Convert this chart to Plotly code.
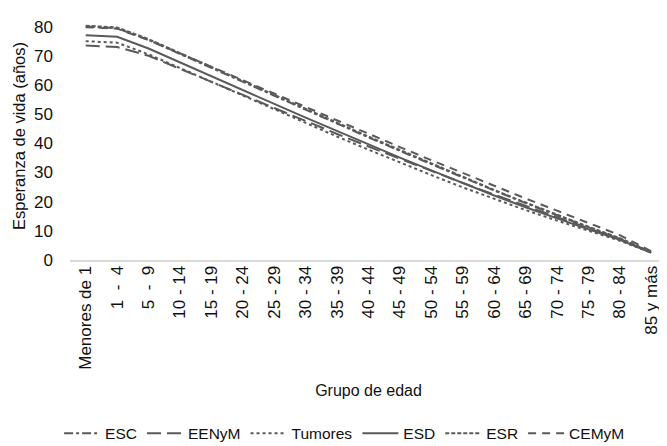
import plotly.graph_objects as go

grupos = ["Menores de 1", "1  -  4", "5  -  9", "10 - 14", "15 - 19", "20 - 24", "25 - 29",
          "30 - 34", "35 - 39", "40 - 44", "45 - 49", "50 - 54", "55 - 59", "60 - 64",
          "65 - 69", "70 - 74", "75 - 79", "80 - 84", "85 y más"]

ESC = [80.0, 79.4, 75.4, 70.6, 65.8, 61.0, 56.2, 51.4, 46.7, 42.0, 37.4, 32.8, 28.2, 23.8, 19.5, 15.3, 11.2, 7.2, 2.6]
EENyM = [73.5, 73.0, 70.0, 65.6, 61.1, 56.6, 52.1, 47.6, 43.2, 38.9, 34.7, 30.5, 26.4, 22.4, 18.5, 14.7, 10.9, 7.2, 2.6]
Tumores = [75.0, 74.5, 70.5, 65.8, 61.0, 56.3, 51.6, 46.9, 42.3, 37.8, 33.4, 29.1, 24.9, 20.9, 17.1, 13.5, 10.0, 6.6, 2.5]
ESD = [77.0, 76.5, 72.5, 67.7, 62.9, 58.2, 53.5, 48.8, 44.2, 39.6, 35.1, 30.7, 26.3, 22.1, 18.1, 14.2, 10.5, 6.9, 2.5]
ESR = [80.3, 79.7, 75.7, 70.9, 66.1, 61.3, 56.5, 51.7, 47.0, 42.3, 37.7, 33.1, 28.5, 24.0, 19.7, 15.5, 11.4, 7.5, 2.7]
CEMyM = [79.8, 79.3, 75.4, 70.8, 66.1, 61.5, 56.9, 52.3, 47.7, 43.2, 38.7, 34.2, 29.8, 25.4, 21.1, 16.9, 12.7, 8.5, 3.0]

series = [
    ("ESC", ESC, "dashdot"),
    ("EENyM", EENyM, "14px,6px"),
    ("Tumores", Tumores, "dot"),
    ("ESD", ESD, "solid"),
    ("ESR", ESR, "4px,2px"),
    ("CEMyM", CEMyM, "8px,6px"),
]

fig = go.Figure()
for name, vals, dash in series:
    fig.add_trace(go.Scatter(
        x=grupos, y=vals, name=name, mode="lines",
        line=dict(color="#5a5a5a", width=2, dash=dash),
    ))

font_family = "Arial, Liberation Sans, sans-serif"
fig.update_layout(
    width=667, height=446,
    margin=dict(l=62, r=8, t=4, b=191),
    paper_bgcolor="white", plot_bgcolor="white",
    font=dict(family=font_family, size=15, color="#111111"),
    showlegend=True,
    legend=dict(orientation="h", x=0.46, xanchor="center", y=-0.70, yanchor="middle",
                font=dict(size=15.5), itemwidth=36, tracegroupgap=0),
    xaxis=dict(
        type="category", range=[-0.5, 18.5], tickangle=-90,
        showline=True, linecolor="#d9d9d9", linewidth=2,
        showgrid=False, ticks="", tickfont=dict(size=17), ticklabelstandoff=-3,
        title=dict(text="Grupo de edad", font=dict(size=16), standoff=16),
    ),
    yaxis=dict(
        range=[0, 85], tickvals=[0, 10, 20, 30, 40, 50, 60, 70, 80],
        showgrid=False, zeroline=False, showline=False, ticks="",
        tickfont=dict(size=17), ticklabelstandoff=16,
        title=dict(text="Esperanza de vida (años)", font=dict(size=16.5), standoff=4),
    ),
)

fig.write_html("out.html")
